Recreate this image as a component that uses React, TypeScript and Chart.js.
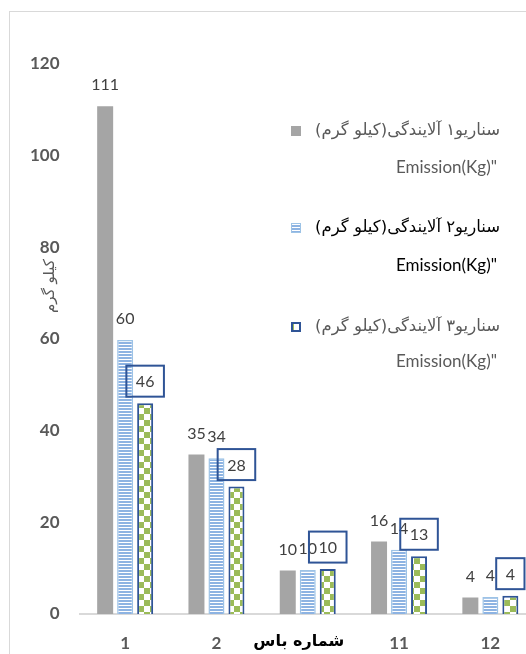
import React, { useEffect, useRef } from "react";
import { Chart, registerables } from "chart.js";

Chart.register(...registerables);

// ---- data ----
const categories = ["1", "2", "10", "11", "12"];
const scenario1 = [110.8, 34.8, 9.5, 15.8, 3.6];
const scenario2 = [59.8, 34.0, 9.6, 14.0, 3.7];
const scenario3 = [46.0, 27.8, 9.8, 12.6, 4.0];
const seriesNames = [
  "سناریو۱ آلایندگی(کیلو گرم)",
  "سناریو۲ آلایندگی(کیلو گرم)",
  "سناریو۳ آلایندگی(کیلو گرم)",
];
const seriesSubNames = ['Emission(Kg)"', 'Emission(Kg)"', 'Emission(Kg)"'];
const yMin = 0;
const yMax = 120;
const yStep = 20;
const yTitle = "کیلو گرم";
const xTitle = "شماره باس";
const coveredCategory = "10"; // hidden under the axis title in the original

const LATIN = "Lato, 'DejaVu Sans', sans-serif";
const ARABIC = "'DejaVu Sans', sans-serif";

function makeStripePattern(ctx: CanvasRenderingContext2D) {
  const c = document.createElement("canvas");
  c.width = 4;
  c.height = 3;
  const g = c.getContext("2d")!;
  g.fillStyle = "#ffffff";
  g.fillRect(0, 0, 4, 3);
  g.fillStyle = "#8db3e2";
  g.fillRect(0, 0, 4, 2);
  return ctx.createPattern(c, "repeat")!;
}

function makeCheckPattern(ctx: CanvasRenderingContext2D) {
  const c = document.createElement("canvas");
  c.width = 12;
  c.height = 12;
  const g = c.getContext("2d")!;
  g.fillStyle = "#ffffff";
  g.fillRect(0, 0, 12, 12);
  g.fillStyle = "#9bbb59";
  g.fillRect(0, 0, 6, 6);
  g.fillRect(6, 6, 6, 6);
  return ctx.createPattern(c, "repeat")!;
}

export default function App() {
  const ref = useRef<HTMLCanvasElement>(null);

  useEffect(() => {
    const canvas = ref.current!;
    const ctx0 = canvas.getContext("2d")!;
    const stripe = makeStripePattern(ctx0);
    const check = makeCheckPattern(ctx0);
    const fills: any[] = ["#a5a5a5", stripe, check];
    const borders = ["#a5a5a5", "#9dc3e6", "#2f5496"];
    const borderWidths = [0, 1.5, 2];
    const series = [scenario1, scenario2, scenario3];
    const boxColor = "#2f5496";

    const labelsPlugin = {
      id: "valueLabels",
      afterDatasetsDraw(chart: any) {
        const ctx = chart.ctx as CanvasRenderingContext2D;
        ctx.save();
        ctx.font = `16px ${LATIN}`;
        ctx.textAlign = "center";
        ctx.textBaseline = "middle";
        chart.data.datasets.forEach((ds: any, di: number) => {
          const meta = chart.getDatasetMeta(di);
          meta.data.forEach((el: any, i: number) => {
            const txt = String(Math.round(ds.data[i]));
            const cy = el.y - 22;
            if (di === 2) {
              const tw = ctx.measureText(txt).width;
              const w = tw + 19;
              const h = 31;
              ctx.strokeStyle = boxColor;
              ctx.lineWidth = 2;
              ctx.strokeRect(el.x - w / 2, cy - h / 2, w, h);
            }
            ctx.fillStyle = "#404040";
            ctx.fillText(txt, el.x, cy + 1);
          });
        });
        ctx.restore();
      },
    };

    const legendPlugin = {
      id: "customLegend",
      afterDraw(chart: any) {
        const ctx = chart.ctx as CanvasRenderingContext2D;
        const rows = [131, 228, 327];
        const rows2 = [168, 266, 362];
        ctx.save();
        rows.forEach((y, i) => {
          // marker
          const mx = 291;
          const my = y - 5;
          const ms = 10;
          ctx.fillStyle = fills[i];
          ctx.fillRect(mx, my, ms, ms);
          if (borderWidths[i] > 0) {
            ctx.strokeStyle = borders[i];
            ctx.lineWidth = i === 2 ? 2 : 1;
            const o = i === 2 ? 1 : 0.5;
            ctx.strokeRect(mx + o, my + o, ms - 2 * o, ms - 2 * o);
          }
          const color = i === 1 ? "#000000" : "#595959";
          ctx.fillStyle = color;
          ctx.textBaseline = "middle";
          ctx.textAlign = "right";
          (ctx as any).direction = "rtl";
          ctx.font = `16.5px ${ARABIC}`;
          ctx.fillText(chart.data.datasets[i].label, 500, y);
          (ctx as any).direction = "ltr";
          ctx.font = `17px ${LATIN}`;
          ctx.fillText(seriesSubNames[i], 497, rows2[i]);
        });
        ctx.restore();
      },
    };

    const titlesPlugin = {
      id: "axisTitles",
      afterDraw(chart: any) {
        const ctx = chart.ctx as CanvasRenderingContext2D;
        ctx.save();
        ctx.translate(50, 286);
        ctx.rotate(-Math.PI / 2);
        ctx.textAlign = "center";
        ctx.textBaseline = "middle";
        (ctx as any).direction = "rtl";
        ctx.fillStyle = "#595959";
        ctx.font = `15px ${ARABIC}`;
        ctx.fillText(yTitle, 0, 0);
        ctx.restore();

        ctx.save();
        const xs = chart.scales.x;
        const idx = categories.indexOf(coveredCategory);
        const px = xs.getPixelForValue(idx) - 9;
        ctx.textAlign = "center";
        ctx.textBaseline = "middle";
        (ctx as any).direction = "rtl";
        ctx.fillStyle = "#000000";
        ctx.font = `bold 16px ${ARABIC}`;
        ctx.fillText(xTitle, px, 642);
        ctx.restore();
      },
    };

    const chart = new Chart(canvas, {
      type: "bar",
      data: {
        labels: categories,
        datasets: series.map((d, i) => ({
          label: seriesNames[i],
          data: d,
          backgroundColor: fills[i],
          borderColor: borders[i],
          borderWidth: borderWidths[i],
          categoryPercentage: 0.657,
          barPercentage: 0.8,
        })),
      },
      options: {
        animation: false,
        responsive: false,
        devicePixelRatio: 1,
        layout: { padding: { left: 0, right: 24, top: 64, bottom: 0 } },
        plugins: {
          legend: { display: false },
          tooltip: { enabled: false },
          title: { display: false },
        },
        scales: {
          x: {
            grid: { display: false, drawTicks: false },
            border: { display: true, color: "#d9d9d9", width: 2 },
            ticks: {
              padding: 19,
              color: "#595959",
              font: { family: LATIN, size: 17, weight: "bold" },
              callback: (_v: any, i: number) =>
                categories[i] === coveredCategory ? "" : categories[i],
            },
            afterFit: (s: any) => {
              s.height = 40;
            },
          },
          y: {
            min: yMin,
            max: yMax,
            grid: { display: false, drawTicks: false },
            border: { display: false },
            ticks: {
              stepSize: yStep,
              padding: 20,
              color: "#595959",
              font: { family: LATIN, size: 17, weight: "bold" },
            },
            afterFit: (s: any) => {
              s.width = 79.5;
            },
          },
        },
      },
      plugins: [labelsPlugin, legendPlugin, titlesPlugin],
    } as any);

    return () => chart.destroy();
  }, []);

  return (
    <div
      style={{
        position: "fixed",
        left: 0,
        top: 0,
        width: 526,
        height: 654,
        overflow: "hidden",
        background: "#ffffff",
      }}
    >
      <canvas
        ref={ref}
        width={560}
        height={654}
        style={{ position: "absolute", left: 0, top: 0, width: 560, height: 654 }}
      />
      <div
        style={{
          position: "absolute",
          left: 9,
          top: 11,
          width: 700,
          height: 800,
          borderLeft: "1px solid #d9d9d9",
          borderTop: "1px solid #d9d9d9",
          pointerEvents: "none",
        }}
      />
    </div>
  );
}
